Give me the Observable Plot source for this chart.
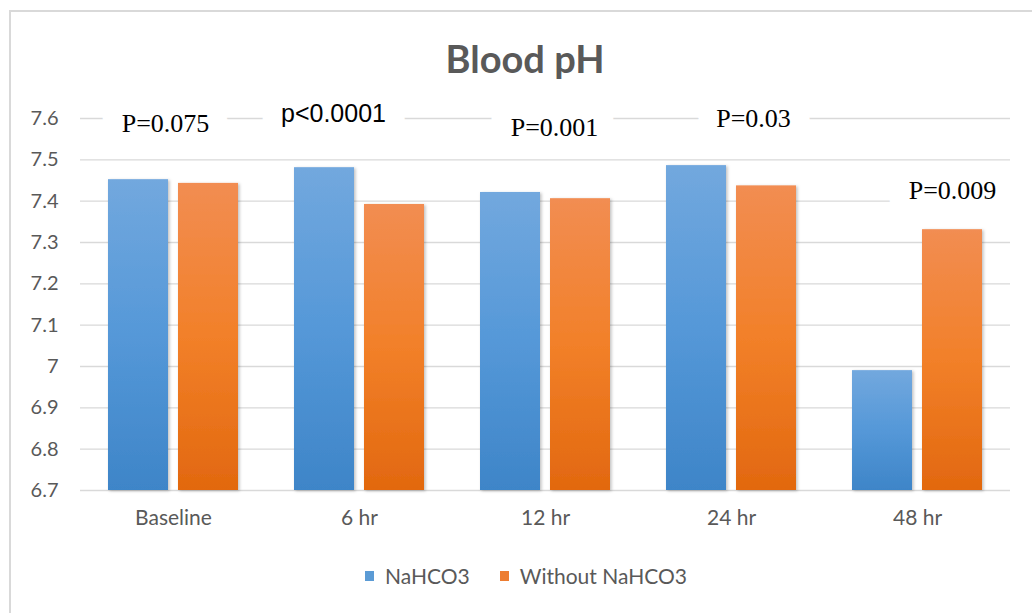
<!DOCTYPE html>
<html><head><meta charset="utf-8">
<script src="https://cdn.jsdelivr.net/npm/d3@7"></script>
<script src="https://cdn.jsdelivr.net/npm/@observablehq/plot@0.6"></script>
<style>
html,body{margin:0;padding:0;background:#fff;overflow:hidden;width:1032px;height:613px;}
#frame{position:absolute;left:9px;top:10px;width:1100px;height:700px;border:2px solid #d9d9d9;box-sizing:border-box;}
#title{position:absolute;left:0;width:1050px;top:36px;text-align:center;font:bold 38px/44px Lato;color:#595959;}
#chart{position:absolute;left:0;top:100px;}
#legend{position:absolute;left:365px;top:562px;display:flex;align-items:center;font:21px/28px Lato;color:#595959;}
.sw{width:9px;height:10px;display:inline-block;margin-right:11px;}
.item{display:flex;align-items:center;margin-right:30px;}
</style></head>
<body>
<div id="frame"></div>
<div id="title">Blood pH</div>
<div id="chart"></div>
<div id="legend"></div>
<script>
const categories = ["Baseline", "6 hr", "12 hr", "24 hr", "48 hr"];
const seriesNames = ["NaHCO3", "Without NaHCO3"];
const nahco3 = [7.452, 7.481, 7.421, 7.486, 6.990];
const withoutNahco3 = [7.443, 7.392, 7.406, 7.437, 7.331];
const pValues = ["P=0.075", "p<0.0001", "P=0.001", "P=0.03", "P=0.009"];
const pLabelY = [7.588, 7.610, 7.578, 7.600, 7.426];
const yTicks = [6.7, 6.8, 6.9, 7.0, 7.1, 7.2, 7.3, 7.4, 7.5, 7.6];

// layout tweaks (pixels), not data
const labelNudge = [-8, -26, 9, 22, 35];
const labelFont = ["Liberation Serif", "Liberation Sans", "Liberation Serif", "Liberation Serif", "Liberation Serif"];
const labelSize = [26, 25, 26, 26, 26];

const blueRows = categories.map((c, i) => ({cat: c, v: nahco3[i]}));
const orangeRows = categories.map((c, i) => ({cat: c, v: withoutNahco3[i]}));

const labelMarks = pValues.map((t, i) => Plot.text([i], {
  x: () => categories[i], y: () => pLabelY[i], text: () => t,
  dx: labelNudge[i], fontFamily: labelFont[i], fontSize: labelSize[i],
  fill: "#000", stroke: "white", strokeWidth: 40, lineAnchor: "middle"
}));

const chart = Plot.plot({
  width: 1032, height: 450,
  marginLeft: 80, marginRight: 22, marginTop: 18, marginBottom: 60,
  style: {fontFamily: "Lato", fontSize: "20px", color: "#595959", background: "transparent", overflow: "visible"},
  x: {domain: categories, padding: 0},
  y: {domain: [6.7, 7.6]},
  marks: [
    Plot.ruleY(yTicks, {stroke: "#d9d9d9", strokeWidth: 1.3}),
    Plot.barY(blueRows, {x: "cat", y1: () => 6.7, y2: "v", fill: "url(#gBlue)", insetLeft: 28, insetRight: 98}),
    Plot.barY(orangeRows, {x: "cat", y1: () => 6.7, y2: "v", fill: "url(#gOrange)", insetLeft: 98, insetRight: 28}),
    Plot.axisY(yTicks, {tickSize: 0, tickPadding: 22, fontSize: 20, label: null, tickFormat: d => String(+d.toFixed(1))}),
    Plot.axisX({tickSize: 0, tickPadding: 20, fontSize: 21, label: null}),
    ...labelMarks
  ]
});

const defs = d3.create("svg:defs");
function grad(id, stops) {
  const g = defs.append("linearGradient").attr("id", id).attr("x1", 0).attr("y1", 0).attr("x2", 0).attr("y2", 1);
  stops.forEach(([o, c]) => g.append("stop").attr("offset", o).attr("stop-color", c));
}
grad("gBlue", [["0%", "#72a8de"], ["50%", "#5598d8"], ["100%", "#3e85c8"]]);
grad("gOrange", [["0%", "#f28d52"], ["50%", "#f28029"], ["100%", "#e2680f"]]);
const f = defs.append("filter").attr("id", "shadow").attr("x", "-20%").attr("y", "-20%").attr("width", "140%").attr("height", "140%");
f.append("feDropShadow").attr("dx", 1.5).attr("dy", 1).attr("stdDeviation", 1.5).attr("flood-color", "#000").attr("flood-opacity", 0.25);
chart.insertBefore(defs.node(), chart.firstChild);
d3.select(chart).selectAll('g[fill^="url"]').attr("filter", "url(#shadow)");

document.getElementById("chart").appendChild(chart);

const legend = d3.select("#legend");
const swatchColors = ["#5b9bd5", "#ed7d31"];
seriesNames.forEach((n, i) => {
  const it = legend.append("div").attr("class", "item");
  it.append("span").attr("class", "sw").style("background", swatchColors[i]);
  it.append("span").text(n);
});
</script>
</body></html>
